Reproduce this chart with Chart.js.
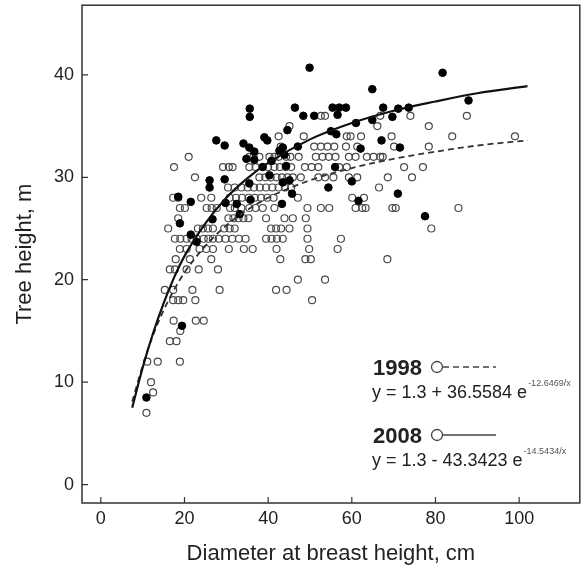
<!DOCTYPE html>
<html>
<head>
<meta charset="utf-8">
<script src="https://cdn.jsdelivr.net/npm/chart.js@4"></script>
<style>
  html, body { margin: 0; padding: 0; background: #fff; }
  #wrap { width: 585px; height: 572px; }
</style>
</head>
<body>
<div id="wrap"><canvas id="treeChart"></canvas></div>
<script>
// tick labels
const xTicks = [0, 20, 40, 60, 80, 100];
const yTicks = [0, 10, 20, 30, 40];

// 1998 survey (open circles): one height class per row, diameters read per row
const heights1998 = [36, 35, 34, 33, 32, 31, 30, 29, 28, 27, 26, 25, 24, 23, 22, 21, 20, 19, 18, 16, 15, 14, 12, 10, 9, 7];
const dbh1998 = [
  [52.6, 53.6, 66.8, 74.0, 87.5],
  [45.1, 66.1, 78.4],
  [42.5, 48.5, 58.8, 59.7, 62.2, 69.5, 84.0, 99.0],
  [43.0, 51.0, 52.6, 54.2, 55.8, 58.6, 61.3, 70.1, 78.4],
  [21.0, 35.5, 36.5, 37.9, 40.3, 41.5, 42.5, 44.3, 45.3, 47.3, 51.4, 53.0, 54.5, 56.1, 59.3, 60.9, 63.6, 65.2, 66.8, 67.4],
  [17.5, 29.2, 30.6, 31.5, 35.5, 37.0, 40.0, 41.5, 42.8, 44.2, 45.5, 48.8, 50.4, 52.0, 57.0, 58.8, 72.5, 77.0],
  [22.5, 37.9, 39.3, 40.6, 42.0, 43.3, 44.6, 45.9, 47.8, 52.0, 53.6, 55.6, 59.3, 61.3, 68.6, 74.4],
  [30.4, 32.0, 33.6, 35.1, 36.6, 38.0, 39.5, 41.0, 42.5, 44.0, 45.5, 66.5],
  [17.3, 18.5, 24.0, 26.4, 30.8, 32.3, 33.8, 35.3, 36.8, 38.3, 39.8, 41.3, 47.1, 60.1, 62.9],
  [18.9, 20.1, 25.3, 26.5, 27.7, 30.9, 32.0, 33.6, 35.5, 37.0, 38.7, 41.5, 49.4, 52.6, 54.6, 60.9, 62.5, 63.3, 69.7, 70.5, 85.5],
  [18.5, 30.5, 31.7, 32.9, 34.1, 35.3, 39.5, 43.9, 45.9, 49.0],
  [16.1, 23.2, 24.4, 25.6, 26.8, 29.5, 30.8, 32.0, 40.7, 41.9, 43.1, 45.1, 49.4, 79.0],
  [17.7, 19.0, 20.5, 21.7, 22.9, 24.6, 25.7, 26.8, 28.2, 29.8, 31.4, 33.0, 34.6, 39.5, 40.8, 42.1, 43.5, 49.4, 57.4],
  [18.9, 20.5, 23.6, 25.2, 26.8, 30.6, 34.2, 36.3, 42.0, 49.8, 56.6],
  [17.9, 21.3, 26.4, 42.9, 48.9, 50.2, 68.5],
  [16.5, 17.7, 20.5, 23.4, 28.0],
  [47.1, 53.6],
  [15.3, 17.3, 21.9, 28.4, 41.9, 44.4],
  [17.3, 18.5, 19.7, 22.6, 50.5],
  [17.4, 22.7, 24.6],
  [19.0],
  [16.5, 18.1],
  [11.1, 13.6, 18.9],
  [12.0],
  [12.5],
  [10.9]
];

// 2008 survey (filled circles)
const dbh2008 = [10.9, 19.4, 18.5, 18.9, 21.5, 21.5, 22.9, 26.0, 26.0, 26.7, 27.6, 29.6, 29.6, 29.8, 32.5, 33.2,
  34.1, 34.8, 35.5, 35.5, 35.8, 35.6, 35.6, 36.7, 36.7, 38.7, 39.1, 39.8, 40.3, 40.8, 42.7, 43.5, 43.9, 44.3,
  43.5, 43.3, 44.6, 45.1, 45.7, 46.4, 47.1, 48.4, 49.9, 51.0, 54.4, 55.0, 55.4, 56.0, 56.3, 56.6, 57.0, 58.6,
  60.0, 61.0, 61.6, 62.1, 64.9, 64.9, 67.1, 67.5, 69.7, 71.1, 71.0, 71.5, 73.6, 77.5, 81.7, 87.9];
const height2008 = [8.5, 15.5, 28.1, 25.5, 27.6, 24.4, 23.7, 29.7, 29.0, 25.9, 33.6, 33.1, 29.8, 27.5, 27.4, 26.4,
  33.3, 31.8, 32.9, 29.4, 27.8, 36.7, 35.9, 32.5, 31.7, 31.0, 33.9, 33.6, 30.2, 31.6, 32.6, 32.9, 32.2, 31.1,
  29.5, 27.4, 34.6, 29.7, 28.4, 36.8, 33.0, 36.0, 40.7, 36.0, 29.0, 34.5, 36.8, 31.0, 34.2, 36.1, 36.8, 36.8,
  29.6, 35.3, 27.7, 32.8, 38.6, 35.6, 33.6, 36.8, 35.9, 36.7, 28.4, 32.9, 36.8, 26.2, 40.2, 37.5];

// fitted curves
const curveDbh = [7.5, 10, 12.5, 15, 17.5, 20, 25, 30, 35, 40, 50, 60, 70, 80, 90, 102];
const fit1998 = [8.1, 11.6, 14.6, 17.0, 19.0, 20.7, 23.3, 25.3, 26.8, 28.0, 29.7, 30.9, 31.8, 32.5, 33.1, 33.6];
const fit2008 = [7.5, 11.4, 14.8, 17.7, 20.2, 22.3, 25.5, 28.0, 29.9, 31.4, 33.7, 35.3, 36.5, 37.4, 38.2, 38.9];

const points1998 = [];
heights1998.forEach((h, i) => dbh1998[i].forEach(d => points1998.push({x: d, y: h})));
const points2008 = dbh2008.map((d, i) => ({x: d, y: height2008[i]}));

const FONT = "'Liberation Sans', Arial, sans-serif";
const INK = '#222';

// box, inward ticks and the equation legend
const framePlugin = {
  id: 'frame',
  afterDraw(chart) {
    const {ctx, chartArea: a, scales} = chart;
    ctx.save();
    ctx.strokeStyle = '#333';
    ctx.lineWidth = 1.5;
    ctx.strokeRect(a.left, a.top, a.right - a.left, a.bottom - a.top);
    ctx.lineWidth = 1.2;
    ctx.beginPath();
    xTicks.forEach(v => {
      const px = scales.x.getPixelForValue(v);
      ctx.moveTo(px, a.bottom);
      ctx.lineTo(px, a.bottom - 6);
    });
    yTicks.forEach(v => {
      const py = scales.y.getPixelForValue(v);
      ctx.moveTo(a.left, py);
      ctx.lineTo(a.left + 6, py);
    });
    ctx.stroke();

    // legend
    const entries = [
      {year: '1998', base: 375, eqBase: 398, eq: 'y = 1.3 + 36.5584 e', sup: '-12.6469/x', dash: [6, 4]},
      {year: '2008', base: 443, eqBase: 466, eq: 'y = 1.3 - 43.3423 e', sup: '-14.5434/x', dash: []}
    ];
    entries.forEach(e => {
      ctx.fillStyle = INK;
      ctx.textAlign = 'left';
      ctx.textBaseline = 'alphabetic';
      ctx.font = 'bold 22px ' + FONT;
      ctx.fillText(e.year, 373, e.base);
      ctx.strokeStyle = '#444';
      ctx.lineWidth = 1.3;
      ctx.beginPath();
      ctx.arc(437, e.base - 8, 5.5, 0, Math.PI * 2);
      ctx.stroke();
      ctx.setLineDash(e.dash);
      ctx.beginPath();
      ctx.moveTo(443, e.base - 8);
      ctx.lineTo(496, e.base - 8);
      ctx.stroke();
      ctx.setLineDash([]);
      ctx.font = '18px ' + FONT;
      ctx.fillText(e.eq, 372, e.eqBase);
      const w = ctx.measureText(e.eq).width;
      ctx.font = '9px ' + FONT;
      ctx.fillStyle = '#555';
      ctx.fillText(e.sup, 372 + w + 1, e.eqBase - 12);
    });
    ctx.restore();
  }
};

new Chart(document.getElementById('treeChart'), {
  type: 'scatter',
  data: {
    datasets: [
      {
        type: 'line',
        label: 'fit 2008',
        data: curveDbh.map((d, i) => ({x: d, y: fit2008[i]})),
        borderColor: '#111',
        borderWidth: 2.2,
        pointRadius: 0,
        cubicInterpolationMode: 'monotone',
        fill: false
      },
      {
        type: 'line',
        label: 'fit 1998',
        data: curveDbh.map((d, i) => ({x: d, y: fit1998[i]})),
        borderColor: '#333',
        borderWidth: 1.8,
        borderDash: [6, 4],
        pointRadius: 0,
        cubicInterpolationMode: 'monotone',
        fill: false
      },
      {
        label: '2008',
        data: points2008,
        pointRadius: 3.8,
        pointBackgroundColor: '#000',
        pointBorderColor: '#000',
        pointBorderWidth: 1
      },
      {
        label: '1998',
        data: points1998,
        pointRadius: 3.5,
        pointBackgroundColor: 'rgba(255,255,255,0)',
        pointBorderColor: '#4a4a4a',
        pointBorderWidth: 1.2
      }
    ]
  },
  options: {
    responsive: true,
    maintainAspectRatio: false,
    animation: false,
    layout: { padding: { top: 5, right: 5, left: 0, bottom: 0 } },
    plugins: {
      legend: { display: false },
      tooltip: { enabled: false }
    },
    scales: {
      x: {
        type: 'linear',
        min: -4.5,
        max: 114.5,
        afterBuildTicks: s => { s.ticks = xTicks.map(v => ({value: v})); },
        afterFit: s => { s.height = 69; s.paddingLeft = 0; s.paddingRight = 0; },
        grid: { display: false, drawTicks: false },
        border: { display: false },
        ticks: { color: INK, padding: 5, maxRotation: 0, font: { size: 18, family: FONT } },
        title: {
          display: true,
          text: 'Diameter at breast height, cm',
          color: INK,
          font: { size: 22, family: FONT },
          padding: { top: 0, bottom: 5 }
        }
      },
      y: {
        type: 'linear',
        min: -1.8,
        max: 46.8,
        afterBuildTicks: s => { s.ticks = yTicks.map(v => ({value: v})); },
        afterFit: s => { s.width = 82; s.paddingTop = 0; s.paddingBottom = 0; },
        grid: { display: false, drawTicks: false },
        border: { display: false },
        ticks: { color: INK, padding: 8, font: { size: 18, family: FONT } },
        title: {
          display: true,
          text: 'Tree height, m',
          color: INK,
          font: { size: 22, family: FONT },
          padding: { top: 12, bottom: 0 }
        }
      }
    }
  },
  plugins: [framePlugin]
});
</script>
</body>
</html>
